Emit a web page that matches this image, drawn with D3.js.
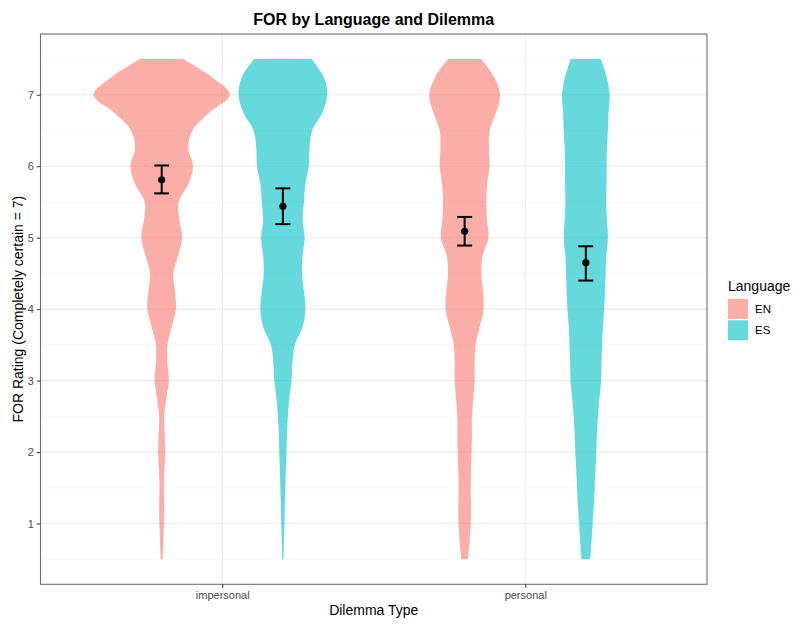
<!DOCTYPE html>
<html>
<head>
<meta charset="utf-8">
<script src="https://cdn.jsdelivr.net/npm/d3@7"></script>
<style>
  body { margin: 0; background: #fff; }
  text { font-family: "Liberation Sans", Arial, sans-serif; }
</style>
</head>
<body>
<div id="chart"></div>
<script>
// data
const dilemmas = ["impersonal", "personal"];
const languages = ["EN", "ES"];
const yTicks = [1, 2, 3, 4, 5, 6, 7];

// rating levels where the violin width was sampled
const levels = [0.5, 0.75, 1, 1.25, 1.5, 1.75, 2, 2.25, 2.5, 2.75, 3, 3.25, 3.5, 3.75,
                4, 4.25, 4.5, 4.75, 5, 5.25, 5.5, 5.75, 6, 6.25, 6.5, 6.75, 7, 7.25, 7.5];

// relative density (1 = widest violin) at each level
const densEnImp = [0.015, 0.024, 0.034, 0.037, 0.032, 0.039, 0.053, 0.044, 0.037, 0.068, 0.105, 0.085, 0.085, 0.146,
                   0.21, 0.195, 0.17, 0.24, 0.30, 0.26, 0.25, 0.39, 0.46, 0.39, 0.45, 0.70, 1.0, 0.73, 0.317];
const densEsImp = [0.01, 0.015, 0.024, 0.029, 0.037, 0.044, 0.053, 0.061, 0.073, 0.093, 0.127, 0.14, 0.175, 0.29,
                   0.33, 0.31, 0.28, 0.29, 0.32, 0.29, 0.31, 0.33, 0.38, 0.39, 0.43, 0.58, 0.65, 0.60, 0.42];
const densEnPer = [0.049, 0.073, 0.09, 0.093, 0.088, 0.093, 0.102, 0.107, 0.107, 0.127, 0.146, 0.146, 0.159, 0.22,
                   0.278, 0.268, 0.244, 0.263, 0.35, 0.327, 0.317, 0.33, 0.366, 0.356, 0.366, 0.46, 0.52, 0.43, 0.244];
const densEsPer = [0.064, 0.083, 0.10, 0.117, 0.13, 0.141, 0.154, 0.163, 0.178, 0.20, 0.225, 0.23, 0.24, 0.25,
                   0.27, 0.283, 0.29, 0.30, 0.324, 0.31, 0.30, 0.305, 0.305, 0.31, 0.324, 0.334, 0.35, 0.305, 0.22];

// mean and 95% CI per group
const means = [5.81, 5.44, 5.09, 4.65];
const ciLow = [5.62, 5.19, 4.89, 4.40];
const ciHigh = [6.01, 5.69, 5.29, 4.88];

const groups = [
  { dilemma: "impersonal", lang: "EN", dens: densEnImp },
  { dilemma: "impersonal", lang: "ES", dens: densEsImp },
  { dilemma: "personal", lang: "EN", dens: densEnPer },
  { dilemma: "personal", lang: "ES", dens: densEsPer }
];
groups.forEach((g, i) => { g.mean = means[i]; g.lo = ciLow[i]; g.hi = ciHigh[i]; });

const width = 800, height = 630;
const margin = { top: 34, right: 93, bottom: 45.7, left: 40.5 };

const svg = d3.select("#chart").append("svg")
  .attr("width", width)
  .attr("height", height);

const x = d3.scalePoint()
  .domain(dilemmas)
  .range([margin.left, width - margin.right])
  .padding(0.6);

const y = d3.scaleLinear()
  .domain([0.15, 7.85])
  .range([height - margin.bottom, margin.top]);

const color = d3.scaleOrdinal().domain(languages).range(["#F8766D", "#00BFC4"]);

const step = x.step();
const dodge = d3.scaleOrdinal().domain(languages).range([-0.2 * step, 0.2 * step]);
const halfW = d3.scaleLinear().domain([0, 1]).range([0, 0.225 * step]);

// panel background + grid
const panel = svg.append("g");
const minor = d3.range(0.5, 8, 1);
panel.selectAll(".minor").data(minor).enter().append("line")
  .attr("x1", margin.left).attr("x2", width - margin.right)
  .attr("y1", d => y(d)).attr("y2", d => y(d))
  .attr("stroke", "#F2F2F2").attr("stroke-width", 0.6);
panel.selectAll(".major").data(yTicks).enter().append("line")
  .attr("x1", margin.left).attr("x2", width - margin.right)
  .attr("y1", d => y(d)).attr("y2", d => y(d))
  .attr("stroke", "#EBEBEB").attr("stroke-width", 1.1);
panel.selectAll(".vmajor").data(dilemmas).enter().append("line")
  .attr("x1", d => x(d)).attr("x2", d => x(d))
  .attr("y1", margin.top).attr("y2", height - margin.bottom)
  .attr("stroke", "#EBEBEB").attr("stroke-width", 1.1);

// violins
const area = d3.area()
  .curve(d3.curveCatmullRom)
  .y(d => y(d.v));

svg.selectAll(".violin").data(groups).enter().append("path")
  .attr("d", g => {
    const cx = x(g.dilemma) + dodge(g.lang);
    const pts = levels.map((v, i) => ({ v: v, w: g.dens[i] }));
    return area.x0(d => cx - halfW(d.w)).x1(d => cx + halfW(d.w))(pts);
  })
  .attr("fill", g => color(g.lang))
  .attr("fill-opacity", 0.6);

// error bars
const eb = svg.selectAll(".eb").data(groups).enter().append("g");
eb.append("line")
  .attr("x1", g => x(g.dilemma) + dodge(g.lang)).attr("x2", g => x(g.dilemma) + dodge(g.lang))
  .attr("y1", g => y(g.lo)).attr("y2", g => y(g.hi))
  .attr("stroke", "#000").attr("stroke-width", 2);
eb.selectAll(".cap").data(g => [g.lo, g.hi].map(v => ({ g: g, v: v }))).enter().append("line")
  .attr("x1", d => x(d.g.dilemma) + dodge(d.g.lang) - 7.5)
  .attr("x2", d => x(d.g.dilemma) + dodge(d.g.lang) + 7.5)
  .attr("y1", d => y(d.v)).attr("y2", d => y(d.v))
  .attr("stroke", "#000").attr("stroke-width", 2);
eb.append("circle")
  .attr("cx", g => x(g.dilemma) + dodge(g.lang))
  .attr("cy", g => y(g.mean))
  .attr("r", 3.6)
  .attr("fill", "#000");

// panel border
svg.append("rect")
  .attr("x", margin.left).attr("y", margin.top)
  .attr("width", width - margin.right - margin.left)
  .attr("height", height - margin.bottom - margin.top)
  .attr("fill", "none").attr("stroke", "#333333").attr("stroke-width", 1.1)
  .attr("stroke-opacity", 0.7);

// axes
const xAxis = svg.append("g")
  .attr("transform", `translate(0,${height - margin.bottom})`)
  .call(d3.axisBottom(x).tickSize(3.7).tickPadding(3));
const yAxis = svg.append("g")
  .attr("transform", `translate(${margin.left},0)`)
  .call(d3.axisLeft(y).tickValues(yTicks).tickSize(3.7).tickPadding(3));
[xAxis, yAxis].forEach(a => {
  a.select(".domain").remove();
  a.selectAll(".tick line").attr("stroke", "#333333");
  a.selectAll(".tick text").attr("fill", "#4D4D4D")
    .attr("font-size", "11px")
    .attr("font-family", "Liberation Sans, Arial, sans-serif");
});

// titles
const midX = (margin.left + width - margin.right) / 2;
svg.append("text")
  .attr("x", midX).attr("y", 25)
  .attr("text-anchor", "middle")
  .attr("font-size", "16px").attr("font-weight", "bold")
  .text("FOR by Language and Dilemma");

svg.append("text")
  .attr("x", midX).attr("y", 615)
  .attr("text-anchor", "middle")
  .attr("font-size", "14px")
  .text("Dilemma Type");

svg.append("text")
  .attr("transform", `translate(23,${(margin.top + height - margin.bottom) / 2}) rotate(-90)`)
  .attr("text-anchor", "middle")
  .attr("font-size", "14px")
  .text("FOR Rating (Completely certain = 7)");

// legend
const legend = svg.append("g").attr("transform", "translate(728,0)");
legend.append("text")
  .attr("x", 0).attr("y", 291)
  .attr("font-size", "14px")
  .text("Language");
const items = legend.selectAll(".item").data(languages).enter().append("g")
  .attr("transform", (d, i) => `translate(0,${299 + i * 21.3})`);
items.append("rect")
  .attr("width", 20).attr("height", 20)
  .attr("fill", d => color(d)).attr("fill-opacity", 0.6);
items.append("text")
  .attr("x", 27).attr("y", 10).attr("dy", "0.35em")
  .attr("font-size", "11.5px")
  .text(d => d);
</script>
</body>
</html>
